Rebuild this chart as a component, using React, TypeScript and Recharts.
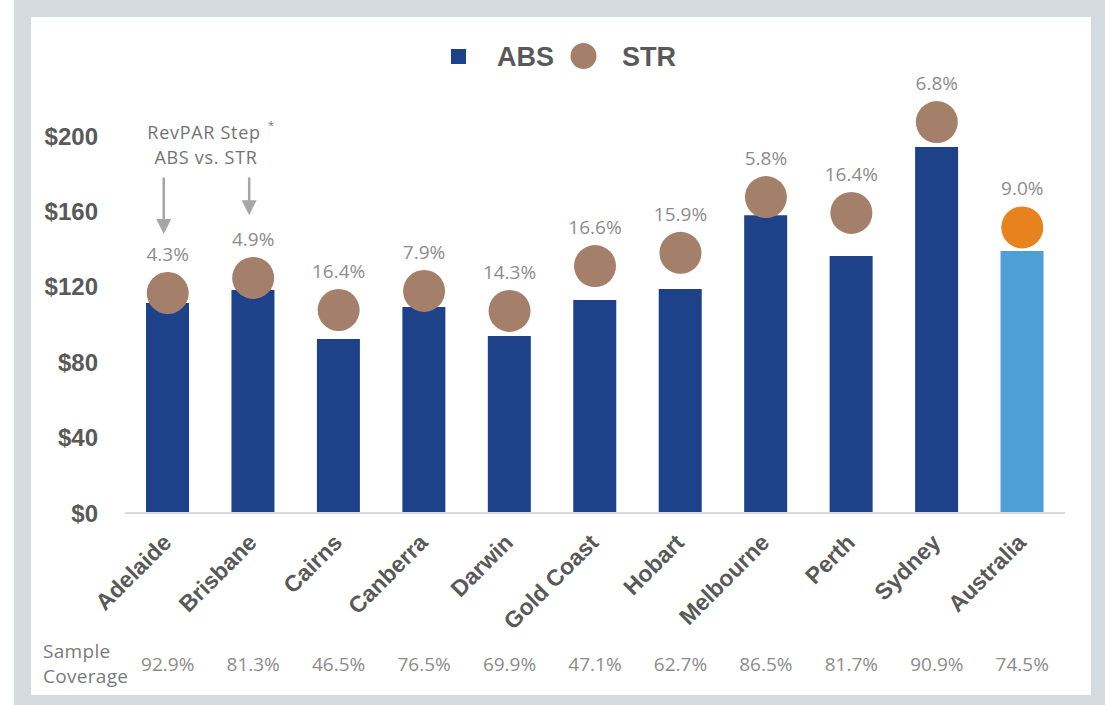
import React from 'react';
import { ComposedChart, Bar, Line, XAxis, YAxis, Cell, LabelList, ReferenceLine } from 'recharts';

const cities = ['Adelaide', 'Brisbane', 'Cairns', 'Canberra', 'Darwin', 'Gold Coast', 'Hobart', 'Melbourne', 'Perth', 'Sydney', 'Australia'];
const absValues = [111.4, 118.3, 92.3, 109.3, 93.9, 113.0, 118.8, 158.0, 136.3, 194.2, 139.0];
const strValues = [116.7, 124.7, 107.7, 117.8, 107.2, 131.0, 138.0, 167.6, 159.2, 207.4, 151.5];
const stepLabels = ['4.3%', '4.9%', '16.4%', '7.9%', '14.3%', '16.6%', '15.9%', '5.8%', '16.4%', '6.8%', '9.0%'];
const coverageLabels = ['92.9%', '81.3%', '46.5%', '76.5%', '69.9%', '47.1%', '62.7%', '86.5%', '81.7%', '90.9%', '74.5%'];
const yTicks = [0, 40, 80, 120, 160, 200];
const arrowCities = ['Adelaide', 'Brisbane'];
const arrowTop = [178, 178];
const arrowTip = [148, 158];

const data = cities.map((c, i) => ({
  city: c,
  abs: absValues[i],
  str: strValues[i],
  step: stepLabels[i],
  coverage: coverageLabels[i],
}));

const NAVY = '#1d4289';
const LIGHT_BLUE = '#4f9fd7';
const BROWN = '#a47f69';
const ORANGE = '#e8821e';
const DARK_TEXT = '#595959';
const GRAY_TEXT = '#8c8c8c';
const ARROW = '#a6a6a6';
const SANS = '"Liberation Sans", Arial, sans-serif';
const LIGHT = '"Open Sans", "Noto Sans", sans-serif';

const CityTick = (props: any) => {
  const { x, y, payload } = props;
  const i = cities.indexOf(payload.value);
  const ax = x + 5;
  const ay = y + 31;
  return (
    <g>
      <text
        x={ax}
        y={ay}
        transform={`rotate(-45, ${ax}, ${ay})`}
        textAnchor="end"
        fontSize={23}
        fontWeight="bold"
        fill={DARK_TEXT}
        fontFamily={SANS}
      >
        {payload.value}
      </text>
      <text x={x} y={y + 158} textAnchor="middle" fontSize={19} fill={GRAY_TEXT} fontFamily={LIGHT}>
        {i >= 0 ? coverageLabels[i] : ''}
      </text>
    </g>
  );
};

const StrDot = (props: any) => {
  const { cx, cy, index } = props;
  if (cx == null || cy == null) return <g key={`d${index}`} />;
  return <circle key={`d${index}`} cx={cx} cy={cy} r={21} fill={index === cities.length - 1 ? ORANGE : BROWN} />;
};

const StepLabel = (props: any) => {
  const { x, y, value } = props;
  return (
    <text x={x} y={y - 32} textAnchor="middle" fontSize={19} fill={GRAY_TEXT} fontFamily={LIGHT}>
      {value}
    </text>
  );
};

const ArrowShape = (props: any) => {
  const { x1, y1, x2, y2 } = props;
  const x = (x1 + x2) / 2 - 4;
  const top = Math.min(y1, y2);
  const tip = Math.max(y1, y2);
  return (
    <g>
      <line x1={x} y1={top} x2={x} y2={tip - 13} stroke={ARROW} strokeWidth={2.5} />
      <polygon points={`${x - 7.5},${tip - 15} ${x + 7.5},${tip - 15} ${x},${tip}`} fill={ARROW} />
    </g>
  );
};

export default function App() {
  return (
    <div style={{ position: 'absolute', left: 0, top: 0, width: 1105, height: 705, background: '#ffffff', overflow: 'hidden' }}>
      <div style={{ position: 'absolute', left: 14, top: 0, width: 1091, height: 705, background: '#d5dbde' }} />
      <div style={{ position: 'absolute', left: 31, top: 17, width: 1060, height: 678, background: '#ffffff' }} />
      <div style={{ position: 'absolute', left: 0, top: 0 }}>
        <ComposedChart
          width={1105}
          height={705}
          data={data}
          margin={{ top: 60.6, right: 40, bottom: 0, left: 0 }}
        >
          <XAxis
            dataKey="city"
            interval={0}
            height={192}
            tickLine={false}
            tickSize={0}
            tickMargin={0}
            axisLine={{ stroke: '#d9d9d9', strokeWidth: 2 }}
            tick={<CityTick />}
          />
          <YAxis
            width={125}
            domain={[0, 240]}
            ticks={yTicks}
            axisLine={false}
            tickLine={false}
            tickSize={0}
            tickMargin={27}
            tickFormatter={(v: number) => `$${v}`}
            tick={{ fill: DARK_TEXT, fontSize: 24, fontWeight: 'bold', fontFamily: SANS }}
          />
          <Bar dataKey="abs" barSize={43} isAnimationActive={false}>
            {data.map((d, i) => (
              <Cell key={d.city} fill={i === cities.length - 1 ? LIGHT_BLUE : NAVY} />
            ))}
          </Bar>
          <Line
            dataKey="str"
            type="linear"
            stroke="transparent"
            strokeWidth={0}
            dot={StrDot}
            activeDot={false}
            isAnimationActive={false}
          >
            <LabelList dataKey="step" content={StepLabel} />
          </Line>
          {arrowCities.map((c, i) => (
            <ReferenceLine
              key={c}
              segment={[
                { x: c, y: arrowTop[i] },
                { x: c, y: arrowTip[i] },
              ]}
              shape={ArrowShape}
            />
          ))}
        </ComposedChart>
      </div>
      <svg width={1105} height={705} style={{ position: 'absolute', left: 0, top: 0, pointerEvents: 'none' }}>
        <rect x={451} y={49} width={15} height={15} fill={NAVY} />
        <text x={497} y={56} dy="0.355em" fontSize={27} fontWeight="bold" fill={DARK_TEXT} fontFamily={SANS}>ABS</text>
        <circle cx={583.5} cy={56} r={13} fill={BROWN} />
        <text x={622} y={56} dy="0.355em" fontSize={27} fontWeight="bold" fill={DARK_TEXT} fontFamily={SANS}>STR</text>
        <text x={204} y={133} dy="0.355em" textAnchor="middle" fontSize={18} fontWeight={500} fill="#737373" fontFamily={LIGHT} letterSpacing={0.7}>RevPAR Step</text>
        <text x={271} y={129} textAnchor="middle" fontSize={11} fill="#737373" fontFamily={LIGHT}>*</text>
        <text x={206} y={158} dy="0.355em" textAnchor="middle" fontSize={18} fontWeight={500} fill="#737373" fontFamily={LIGHT} letterSpacing={0.7}>ABS vs. STR</text>
        <text x={43} y={651} dy="0.355em" fontSize={19} fill="#7a7a7a" fontFamily={LIGHT} letterSpacing={0.3}>Sample</text>
        <text x={43} y={676} dy="0.355em" fontSize={19} fill="#7a7a7a" fontFamily={LIGHT} letterSpacing={0.3}>Coverage</text>
      </svg>
    </div>
  );
}
